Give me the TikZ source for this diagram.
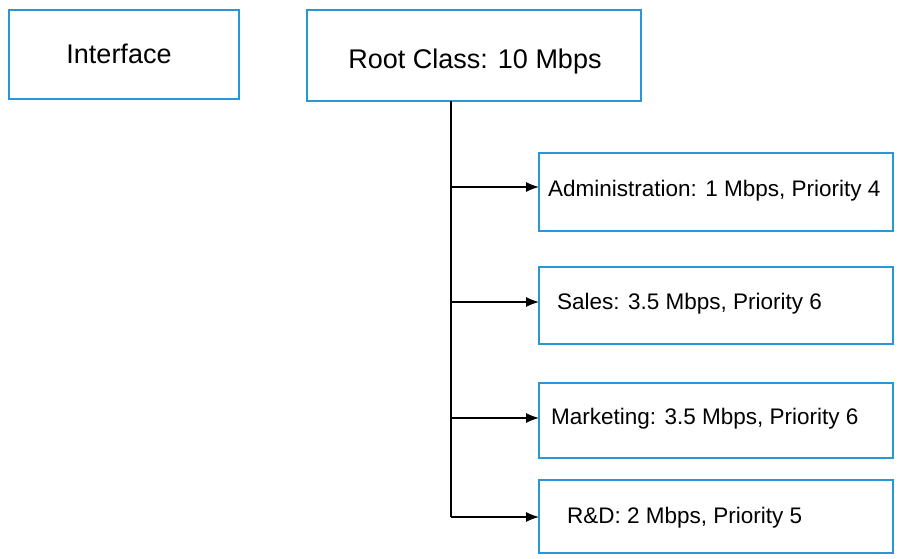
\documentclass[tikz,border=0pt]{standalone}
\usepackage{fontspec}
\setmainfont{Liberation Sans}
\usetikzlibrary{arrows.meta}
\definecolor{bx}{RGB}{40,150,215}
\begin{document}
\begin{tikzpicture}[x=1pt,y=-1pt,
 box/.style={draw=bx,line width=2pt},
 lab/.style={anchor=west,font=\fontsize{22.5}{26}\selectfont,inner sep=0pt},
 arr/.style={line width=1.3pt,-{Latex[length=13pt,width=10pt]}}]
\useasboundingbox (0,0) rectangle (907,559);
\draw[box] (9,10) rectangle (239,99);
\node[font=\fontsize{27}{30}\selectfont] (iface) at (119,54) {Interface};
\draw[box] (307,10) rectangle (641,101);
\node[font=\fontsize{27}{30}\selectfont] (root) at (475,62) {Root Class: 10 Mbps};
\coordinate (top) at (451,101);
\coordinate (bot) at (451,517);
\draw[box] (539,153) rectangle (893,231);
\draw[box] (539,267) rectangle (893,344);
\draw[box] (539,383) rectangle (893,458);
\draw[box] (539,480) rectangle (893,553);
\node[lab] (a) at (548,191) {Administration: 1 Mbps, Priority 4};
\node[lab] (s) at (557,304) {Sales: 3.5 Mbps, Priority 6};
\node[lab] (m) at (551,419) {Marketing: 3.5 Mbps, Priority 6};
\node[lab] (r) at (567,518) {R\&D: 2 Mbps, Priority 5};
\coordinate (p1) at (451,187); \coordinate (q1) at (539,187);
\coordinate (p2) at (451,302); \coordinate (q2) at (539,302);
\coordinate (p3) at (451,418); \coordinate (q3) at (539,418);
\coordinate (q4) at (539,517);
\draw[line width=1.3pt] (top) -- (bot);
\draw[arr] (p1) -- (q1);
\draw[arr] (p2) -- (q2);
\draw[arr] (p3) -- (q3);
\draw[arr] (bot) -- (q4);
\end{tikzpicture}
\end{document}
